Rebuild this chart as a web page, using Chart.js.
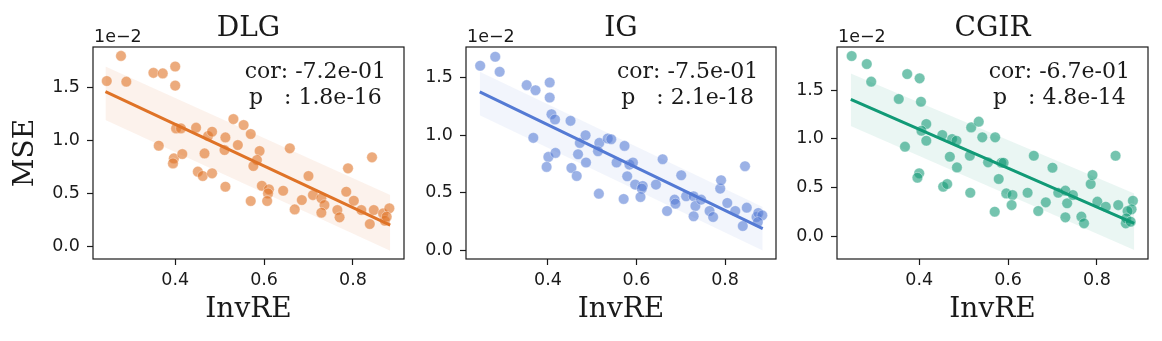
<!DOCTYPE html>
<html>
<head>
<meta charset="utf-8">
<script src="https://cdn.jsdelivr.net/npm/chart.js@4.4.1/dist/chart.umd.min.js"></script>
<style>
    html, body { margin: 0; padding: 0; background: #fff; }
    body { width: 1162px; height: 341px; position: relative; overflow: hidden; }
    .panel { position: absolute; top: 0; height: 341px; }
</style>
</head>
<body>
<div class="panel" style="left:0;width:420px"><canvas id="dlgChart"></canvas></div>
<div class="panel" style="left:420px;width:370px"><canvas id="igChart"></canvas></div>
<div class="panel" style="left:790px;width:372px"><canvas id="cgirChart"></canvas></div>
<script>
// Data (MSE values in units of 1e-2)
const xTicks = [0.4, 0.6, 0.8];
const yTicks = [0.0, 0.5, 1.0, 1.5];
const xRange = [0.215, 0.915];

const dlgX = [0.246,0.278,0.290,0.351,0.372,0.400,0.400,0.363,0.402,0.413,0.397,0.395,0.416,0.447,0.474,0.483,0.466,0.451,0.462,0.483,0.513,0.511,0.531,0.541,0.554,0.570,0.513,0.590,0.584,0.576,0.570,0.595,0.611,0.609,0.607,0.643,0.658,0.669,0.685,0.700,0.710,0.729,0.736,0.729,0.765,0.770,0.785,0.789,0.802,0.819,0.838,0.843,0.847,0.868,0.872,0.882,0.876];
const dlgY = [1.563,1.800,1.557,1.640,1.635,1.700,1.520,0.953,1.116,1.116,0.833,0.786,0.874,1.123,1.044,1.085,0.880,0.708,0.667,0.692,1.031,0.912,1.204,0.959,1.148,1.063,0.566,0.903,0.818,0.761,0.431,0.575,0.541,0.503,0.431,0.528,0.928,0.352,0.440,0.667,0.487,0.456,0.393,0.321,0.346,0.277,0.519,0.739,0.434,0.346,0.214,0.843,0.346,0.314,0.245,0.362,0.283];
const dlgFitX = [0.243, 0.884];
const dlgFitY = [1.462, 0.204];
const dlgBandHi = [1.700, 0.487];
const dlgBandLo = [1.195, -0.038];
const dlgYRange = [-0.116, 1.884];
const dlgStats = ['cor: -7.2e-01', 'p   : 1.8e-16'];

const igX = [0.247,0.281,0.291,0.352,0.372,0.404,0.404,0.408,0.416,0.367,0.401,0.417,0.397,0.451,0.472,0.485,0.468,0.486,0.453,0.465,0.516,0.513,0.535,0.543,0.573,0.555,0.584,0.592,0.579,0.515,0.571,0.597,0.614,0.612,0.609,0.644,0.659,0.669,0.686,0.688,0.701,0.712,0.729,0.733,0.729,0.746,0.765,0.773,0.789,0.791,0.805,0.823,0.840,0.845,0.849,0.871,0.875,0.884,0.874];
const igY = [1.605,1.683,1.552,1.436,1.392,1.459,1.328,1.183,1.137,0.977,0.811,0.846,0.724,1.125,0.933,1.000,0.834,0.762,0.715,0.645,0.933,0.860,0.971,0.965,0.907,0.762,0.744,0.762,0.642,0.491,0.445,0.570,0.558,0.535,0.462,0.570,0.791,0.340,0.439,0.404,0.651,0.468,0.468,0.384,0.294,0.439,0.340,0.288,0.535,0.608,0.410,0.340,0.209,0.730,0.369,0.288,0.323,0.302,0.244];
const igFitX = [0.246, 0.885];
const igFitY = [1.378, 0.186];
const igBandHi = [1.552, 0.375];
const igBandLo = [1.174, -0.003];
const igYRange = [-0.078, 1.768];
const igStats = ['cor: -7.5e-01', 'p   : 2.1e-18'];

const cgirX = [0.248,0.282,0.292,0.373,0.401,0.354,0.404,0.416,0.405,0.416,0.368,0.400,0.396,0.452,0.474,0.484,0.469,0.485,0.454,0.463,0.517,0.534,0.542,0.514,0.515,0.555,0.571,0.585,0.590,0.579,0.570,0.596,0.610,0.608,0.644,0.658,0.668,0.685,0.700,0.713,0.729,0.733,0.746,0.729,0.765,0.771,0.786,0.790,0.801,0.820,0.842,0.848,0.865,0.881,0.878,0.869,0.866,0.876];
const cgirY = [1.849,1.767,1.586,1.664,1.620,1.408,1.380,1.151,1.082,0.979,0.918,0.644,0.599,1.038,0.997,0.979,0.815,0.705,0.507,0.534,1.116,1.175,1.014,0.825,0.445,0.757,1.014,0.753,0.753,0.586,0.250,0.438,0.421,0.318,0.445,0.825,0.257,0.346,0.702,0.445,0.466,0.336,0.421,0.192,0.199,0.130,0.534,0.627,0.353,0.301,0.825,0.318,0.130,0.362,0.274,0.256,0.181,0.147];
const cgirFitX = [0.246, 0.884];
const cgirFitY = [1.404, 0.130];
const cgirBandHi = [1.671, 0.438];
const cgirBandLo = [1.130, -0.144];
const cgirYRange = [-0.236, 1.942];
const cgirStats = ['cor: -6.7e-01', 'p   : 4.8e-14'];

const SERIF = "'DejaVu Serif', serif";
const SANS = "'DejaVu Sans', sans-serif";
const INK = '#1a1a1a';

const toPoints = (xs, ys) => xs.map((x, i) => ({ x: x, y: ys[i] }));

// Frame, title, offset text and stats annotation drawn around the chart area
const decorPlugin = {
    id: 'decor',
    afterDraw(chart, args, opts) {
        const { ctx, chartArea: a } = chart;
        ctx.save();
        ctx.strokeStyle = INK;
        ctx.lineWidth = 1.2;
        ctx.strokeRect(a.left, a.top, a.right - a.left, a.bottom - a.top);

        ctx.fillStyle = INK;
        ctx.textBaseline = 'alphabetic';
        ctx.textAlign = 'center';
        ctx.font = '28px ' + SERIF;
        ctx.fillText(opts.title, (a.left + a.right) / 2, 36);

        ctx.textAlign = 'left';
        ctx.font = '17.5px ' + SANS;
        ctx.fillText('1e\u22122', a.left + 1, 42);

        ctx.textAlign = 'center';
        ctx.font = '22px ' + SERIF;
        const cx = a.left + 0.715 * (a.right - a.left);
        ctx.fillText(opts.stats[0], cx, 78);
        ctx.fillText(opts.stats[1], cx, 104);
        ctx.restore();
    }
};

function makePanel(id, cfg) {
    const mainColor = cfg.color;
    return new Chart(document.getElementById(id), {
        type: 'scatter',
        data: {
            datasets: [
                {
                    type: 'line',
                    data: toPoints(cfg.fitX, cfg.fitY),
                    borderColor: mainColor,
                    borderWidth: 3,
                    pointRadius: 0,
                    order: 0
                },
                {
                    data: toPoints(cfg.xs, cfg.ys),
                    backgroundColor: cfg.pointFill,
                    borderColor: 'rgba(255,255,255,0.35)',
                    borderWidth: 1,
                    pointRadius: 5.3,
                    order: 1
                },
                {
                    type: 'line',
                    data: toPoints(cfg.fitX, cfg.bandHi),
                    borderWidth: 0,
                    pointRadius: 0,
                    fill: '+1',
                    backgroundColor: cfg.bandFill,
                    order: 2
                },
                {
                    type: 'line',
                    data: toPoints(cfg.fitX, cfg.bandLo),
                    borderWidth: 0,
                    pointRadius: 0,
                    fill: false,
                    order: 3
                }
            ]
        },
        options: {
            responsive: true,
            maintainAspectRatio: false,
            animation: false,
            events: [],
            layout: { padding: { left: cfg.padLeft, right: cfg.padRight, top: 47, bottom: 0 } },
            plugins: {
                legend: { display: false },
                tooltip: { enabled: false },
                decor: { title: cfg.title, stats: cfg.stats }
            },
            scales: {
                x: {
                    type: 'linear',
                    min: xRange[0],
                    max: xRange[1],
                    afterBuildTicks: s => { s.ticks = xTicks.map(v => ({ value: v })); },
                    afterFit: s => { s.height = 82; },
                    border: { display: false },
                    grid: { drawOnChartArea: false, drawTicks: true, tickLength: 6, tickColor: INK, tickWidth: 1.2 },
                    ticks: { color: INK, font: { family: SANS, size: 17.5 }, padding: 5 },
                    title: { display: true, text: 'InvRE', color: INK, font: { family: SERIF, size: 28 }, padding: { top: 0, bottom: 14 } }
                },
                y: {
                    type: 'linear',
                    min: cfg.yRange[0],
                    max: cfg.yRange[1],
                    afterBuildTicks: s => { s.ticks = yTicks.map(v => ({ value: v })); },
                    afterFit: s => { s.width = cfg.yWidth; },
                    border: { display: false },
                    grid: { drawOnChartArea: false, drawTicks: true, tickLength: 6, tickColor: INK, tickWidth: 1.2 },
                    ticks: { color: INK, font: { family: SANS, size: 17.5 }, padding: 7, callback: v => v.toFixed(1) },
                    title: { display: cfg.yTitle, text: 'MSE', color: INK, font: { family: SERIF, size: 28 }, padding: { top: 0, bottom: 0 } }
                }
            }
        },
        plugins: [decorPlugin]
    });
}

makePanel('dlgChart', {
    title: 'DLG', stats: dlgStats, xs: dlgX, ys: dlgY,
    fitX: dlgFitX, fitY: dlgFitY, bandHi: dlgBandHi, bandLo: dlgBandLo, yRange: dlgYRange,
    color: '#df7327', pointFill: 'rgba(223,115,39,0.6)', bandFill: 'rgba(223,115,39,0.09)',
    padLeft: 9, yWidth: 84, padRight: 16, yTitle: true
});

makePanel('igChart', {
    title: 'IG', stats: igStats, xs: igX, ys: igY,
    fitX: igFitX, fitY: igFitY, bandHi: igBandHi, bandLo: igBandLo, yRange: igYRange,
    color: '#547ad4', pointFill: 'rgba(84,122,212,0.58)', bandFill: 'rgba(84,122,212,0.08)',
    padLeft: 0, yWidth: 46, padRight: 14, yTitle: false
});

makePanel('cgirChart', {
    title: 'CGIR', stats: cgirStats, xs: cgirX, ys: cgirY,
    fitX: cgirFitX, fitY: cgirFitY, bandHi: cgirBandHi, bandLo: cgirBandLo, yRange: cgirYRange,
    color: '#119a76', pointFill: 'rgba(17,154,118,0.58)', bandFill: 'rgba(17,154,118,0.09)',
    padLeft: 0, yWidth: 47, padRight: 14, yTitle: false
});
</script>
</body>
</html>
